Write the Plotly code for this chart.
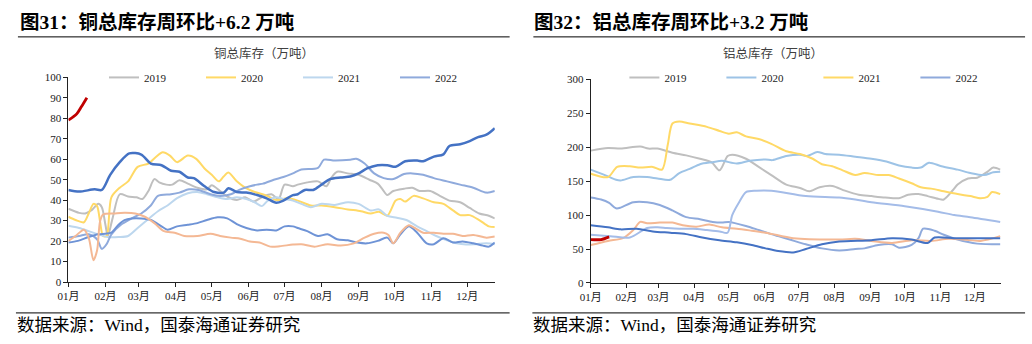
import datetime as dt
import plotly.graph_objects as go

# ---- copper total inventory (万吨), (day-of-year offset, value) per year ----
cu_2019 = [(0,35.8),(9,33.8),(14,33.5),(20,35.4),(25,38.2),(28,36.6),(31,28),(33,22.5),(37,31.1),(43,42.9),(50,41.8),(57,41.4),(62,40.6),(67,44.5),(72,50.3),(76,48.7),(82,47.6),(87,47.6),(93,49.7),(100,48.1),(108,46.1),(116,45.3),(120,47.3),(127,44.5),(133,41.8),(141,40.1),(148,41.4),(155,39.3),(163,41.8),(170,42.9),(176,40.6),(181,47.6),(188,46.8),(192,47.6),(200,48.7),(209,49.2),(216,46.8),(220,50.8),(225,53.9),(234,53.1),(243,52.4),(252,50),(259,48.1),(263,45.3),(267,42.5),(272,44.5),(281,45.6),(288,46.1),(294,44.5),(303,44.5),(311,42.1),(319,39.8),(328,39),(336,36.2),(344,33.5),(352,32.4),(357,31.1)]
cu_2020 = [(0,31.9),(6,30.3),(13,29.2),(17,33.5),(21,38.2),(24,37.1),(26.5,29.6),(29,22.5),(32,22.5),(36,41.4),(43,46.1),(50,49.2),(58,56.3),(67,57.9),(73,61),(79,63.4),(85,61.8),(91,58.6),(100,61.8),(107,60.2),(114,55.5),(120,52.4),(126,49.2),(130,51.6),(134,53.5),(141,49.2),(148,46.1),(156,44),(165,42.5),(174,40.1),(183,40.9),(192,39.8),(203,37.4),(212,37.4),(223,36.6),(234,35.5),(245,34.6),(253,33.5),(260,34.3),(267,32.4),(274,39.8),(278,40.6),(282,39.3),(289,42.1),(297,40.9),(306,39),(314,38.2),(322,35),(328,32.7),(336,32.7),(344,30.3),(352,27.2),(357,26.9)]
cu_2021 = [(0,27.5),(9,26.4),(17,24.9),(25,23.3),(33,22),(42,22),(50,22.5),(58,26.4),(67,30.8),(75,34.6),(83,37.4),(91,41),(100,43.4),(108,44),(116,42.9),(125,41.4),(133,40.6),(141,41.4),(149,40.6),(156,39),(162,37.1),(167,39.8),(174,41.4),(180,40.6),(188,39.8),(195,38.2),(203,36.6),(212,38.2),(223,37.7),(234,39),(243,38.2),(253,35),(260,35.5),(267,32.4),(275,31.4),(283,30.3),(292,27.2),(300,24.9),(308,22.5),(317,20.4),(325,18.9),(333,18.3),(341,18.5),(350,18.9),(357,18.5)]
cu_2022 = [(0,21.7),(9,22.5),(17,23.3),(24,20.9),(28,16.2),(32,18.5),(36,23.3),(44,28),(53,31.1),(61,33.5),(69,37.4),(75,42.1),(86,42.9),(93,43.7),(101,45.3),(109,45),(119,42.9),(127,42.1),(136,42.9),(143,45),(152,46.8),(158,47.6),(163,48.1),(172,50),(180,51.3),(188,53.1),(195,55),(209,55.8),(214,59.8),(223,59.4),(236,59.8),(241,60.2),(248,57.9),(256,53.1),(264,50.8),(272,50.3),(281,52.8),(288,53.1),(297,52.4),(306,50.8),(317,49.2),(328,47.6),(339,46.1),(350,43.7),(357,44.5)]
cu_2023 = [(0,19.3),(8,20.1),(17,22),(25,23.3),(31,23.6),(36,24.1),(42,28),(47,30.3),(53,31.1),(61,31.1),(69,30.3),(78,27.2),(83,25.6),(91,27.2),(100,28),(108,28.8),(116,30.3),(125,31.6),(133,31.1),(141,28.3),(149,26.4),(158,25.2),(166,25.6),(174,25.2),(181,27.2),(188,27.2),(192,26.4),(200,24.9),(209,22.5),(217,23.3),(225,20.9),(234,20.4),(242,19.3),(250,18.9),(259,20.1),(267,21.7),(272,18.9),(278,23.3),(285,27.2),(292,24.1),(300,18.9),(306,18.5),(314,21.4),(322,19.3),(330,19.8),(339,18.9),(347,17.8),(352,17.3),(357,19.3)]
cu_2024 = [(0,20.1),(6,22.5),(13,25.6),(17,21.7),(21,10.7),(24,15.4),(26.5,29.6),(29,33),(39,33.5),(47,33.8),(56,33.5),(64,31.9),(72,28.8),(80,24.9),(89,24.1),(97,22.5),(108,22.5),(119,23.6),(127,22.5),(136,21.7),(144,21.2),(152,19.8),(160,19.3),(169,17.3),(177,17.5),(188,18.3),(195,18.5),(206,17.3),(217,18.5),(228,17.8),(239,18.9),(248,21.7),(256,23.6),(264,24.1),(268,23),(272,18.9),(278,24.1),(285,27.7),(290,26.4),(297,24.1),(306,24.1),(314,23.6),(322,23.6),(330,22.5),(339,23),(350,21.7),(357,22.2)]
cu_2025 = [(0,45),(9,44.2),(22,45.3),(28,45),(35,52.4),(43,58.6),(51,62.9),(61,62.3),(69,57.9),(78,57.1),(86,54.4),(93,53.9),(100,51.1),(105,50.8),(114,46.8),(122,44),(130,43.7),(134,45.8),(141,44),(149,43.7),(158,42.5),(166,40.9),(174,38.7),(180,39.8),(188,42.5),(192,42.9),(198,45),(205,45),(212,47.6),(219,50.3),(228,51.1),(236,51.6),(243,53.1),(250,55.5),(259,57.1),(267,57.1),(274,56.3),(282,59),(292,59.4),(297,59),(306,61.3),(314,62.4),(319,66.5),(328,67.3),(336,68.9),(343,70.8),(350,72),(357,75.2)]
cu_2026 = [(0,79.1),(7,82.2),(11,85.8),(15.5,90.1)]

# ---- aluminium total inventory (万吨) ----
al_2019 = [(0,195),(15,199),(26,198),(43,201),(50,198),(58,198),(71,192),(83,188),(95,183),(105,178),(112,166),(119,187),(123,189),(135,183),(146,171),(157,159),(170,145),(182,140),(190,135),(199,141),(210,143),(221,136),(233,130),(244,128),(256,126),(268,125),(276,130),(285,131),(293,128),(302,124),(307,123),(315,137),(319,145),(328,154),(336,155),(345,164),(350,170),(356,167)]
al_2020 = [(0,167),(15,157),(22,152),(26,151),(37,156),(49,156),(58,154),(69,152),(77,162),(86,168),(95,175),(106,178),(114,180),(127,176),(138,180),(152,182),(158,181),(170,187),(182,189),(188,187),(197,193),(204,190),(216,189),(230,186),(244,183),(257,179),(268,173),(279,170),(287,170),(294,177),(305,172),(319,167),(330,162),(342,159),(350,163),(356,164)]
al_2021 = [(0,161),(15,156),(23,171),(34,172),(43,170),(54,171),(62,167),(67,204),(71,235),(77,238),(86,235),(101,230),(112,224),(120,220),(127,222),(135,216),(146,212),(157,205),(170,194),(182,190),(193,183),(201,175),(210,172),(219,166),(230,159),(238,162),(250,159),(259,159),(268,154),(279,147),(287,141),(296,139),(307,135),(319,131),(330,128),(339,125),(345,127),(349,134),(356,131)]
al_2022 = [(0,126),(9,123),(16,118),(22,110),(26,111),(37,119),(49,119),(60,115),(71,107),(83,97),(95,94),(106,90),(114,89),(120,90),(135,84),(146,78),(157,72),(163,69),(173,64),(187,57),(201,51),(216,48),(230,50),(238,51),(250,56),(262,57),(268,52),(279,56),(285,66),(289,80),(299,77),(307,71),(319,64),(336,58),(356,57)]
al_2023 = [(0,56),(15,62),(28,66),(37,78),(43,90),(49,88),(60,89),(71,89),(80,85),(92,83),(103,86),(114,82),(127,80),(140,77),(152,74),(158,72),(176,66),(216,64),(230,65),(244,62),(262,59),(279,63),(296,62),(311,65),(324,64),(339,62),(356,69)]
al_2024 = [(0,71),(17,69),(34,67),(49,81),(58,82),(66,81),(77,80),(89,80),(101,78),(112,76),(119,74),(123,100),(129,119),(135,134),(144,136),(157,136),(187,128),(216,126),(230,123),(244,119),(273,113),(302,105),(316,100),(330,97),(356,90)]
al_2025 = [(0,85),(15,82),(26,79),(40,80),(54,76),(69,74),(83,72),(97,67),(112,63),(127,60),(140,56),(152,51),(163,47),(176,45),(187,50),(201,57),(216,61),(244,63),(262,66),(279,64),(293,59),(299,67),(316,66),(330,66),(356,66)]
al_2026 = [(0,64),(9,64),(16,68)]

month_labels = ["01月", "02月", "03月", "04月", "05月", "06月",
                "07月", "08月", "09月", "10月", "11月", "12月"]

BASE = dt.datetime(2021, 1, 1)
W, H = 1032, 344


def to_dates(series):
    return [BASE + dt.timedelta(days=d) for d, _ in series], [v for _, v in series]


def px_x(p):
    return p / W


def px_y(p):
    return 1 - p / H


fig = go.Figure()

copper = [
    ("2019", cu_2019, "#BFBFBF", 2.0, True),
    ("2020", cu_2020, "#FFD966", 2.0, True),
    ("2021", cu_2021, "#BDD7EE", 2.0, True),
    ("2022", cu_2022, "#8FAADC", 2.0, True),
    ("2023", cu_2023, "#6E93D6", 2.0, False),
    ("2024", cu_2024, "#F4B894", 2.0, False),
    ("2025", cu_2025, "#4472C4", 2.5, False),
    ("2026", cu_2026, "#C00000", 2.8, False),
]
alum = [
    ("2019", al_2019, "#BFBFBF", 2.0, True),
    ("2020", al_2020, "#9DC3E6", 2.0, True),
    ("2021", al_2021, "#FFD966", 2.0, True),
    ("2022", al_2022, "#8FAADC", 2.0, True),
    ("2023", al_2023, "#F4B894", 2.0, False),
    ("2024", al_2024, "#A4BCE8", 2.0, False),
    ("2025", al_2025, "#4472C4", 2.0, False),
    ("2026", al_2026, "#C00000", 2.8, False),
]

for name, data, color, width, show in copper:
    xs, ys = to_dates(data)
    fig.add_trace(go.Scatter(
        x=xs, y=ys, name=name, mode="lines",
        line=dict(color=color, width=width, shape="spline", smoothing=0.8),
        showlegend=show, legend="legend", xaxis="x", yaxis="y"))

for name, data, color, width, show in alum:
    xs, ys = to_dates(data)
    fig.add_trace(go.Scatter(
        x=xs, y=ys, name=name, mode="lines",
        line=dict(color=color, width=width, shape="spline", smoothing=0.8),
        showlegend=show, legend="legend2", xaxis="x2", yaxis="y2"))

tick_dates = [dt.datetime(2021, m, 1) for m in range(1, 13)]
serif = "Liberation Serif, 'Times New Roman', 'Noto Sans CJK SC', serif"
tick_font = dict(family=serif, size=11, color="#222")

xcommon = dict(
    type="date", range=[BASE, BASE + dt.timedelta(days=357)],
    tickvals=tick_dates, ticktext=month_labels,
    ticks="outside", ticklen=4, tickcolor="#222",
    showline=True, linecolor="#222", linewidth=1,
    showgrid=False, zeroline=False, tickfont=tick_font,
)
ycommon = dict(
    ticks="outside", ticklen=4, tickcolor="#222",
    showline=True, linecolor="#222", linewidth=1,
    showgrid=False, zeroline=False, tickfont=tick_font,
)

legend_common = dict(
    orientation="h", xanchor="left", yanchor="middle",
    font=dict(family=serif, size=11, color="#222"),
    bgcolor="rgba(0,0,0,0)", itemwidth=30,
    entrywidth=52, entrywidthmode="pixels", traceorder="normal",
)

title_font = dict(family=serif, size=19.5, color="#000")
sub_font = dict(family="'Noto Sans CJK SC', sans-serif", size=12.5, color="#404040")
foot_font = dict(family=serif, size=17.5, color="#000")

annotations = [
    dict(text="<b>图31：铜总库存周环比+6.2 万吨</b>", x=px_x(7), y=px_y(17),
         xanchor="left", yanchor="middle", font=title_font),
    dict(text="<b>图32：铝总库存周环比+3.2 万吨</b>", x=px_x(527), y=px_y(17),
         xanchor="left", yanchor="middle", font=title_font),
    dict(text="铜总库存（万吨）", x=px_x(256), y=px_y(48),
         xanchor="center", yanchor="middle", font=sub_font),
    dict(text="铝总库存（万吨）", x=px_x(770), y=px_y(48),
         xanchor="center", yanchor="middle", font=sub_font),
    dict(text="数据来源：Wind，国泰海通证券研究", x=px_x(4), y=px_y(331),
         xanchor="left", yanchor="middle", font=foot_font),
    dict(text="数据来源：Wind，国泰海通证券研究", x=px_x(526), y=px_y(331),
         xanchor="left", yanchor="middle", font=foot_font),
]
for a in annotations:
    a.update(xref="paper", yref="paper", showarrow=False)

rules = []
for x0, x1, y in [(7, 504, 32), (528, 1025, 32), (5, 504, 318), (527, 1025, 318)]:
    rules.append(dict(type="line", xref="paper", yref="paper",
                      x0=px_x(x0), x1=px_x(x1), y0=px_y(y), y1=px_y(y),
                      line=dict(color="#000", width=1)))

fig.update_layout(
    width=W, height=H, margin=dict(l=0, r=0, t=0, b=0),
    paper_bgcolor="white", plot_bgcolor="white",
    xaxis=dict(domain=[px_x(58), px_x(489)], anchor="y", **xcommon),
    yaxis=dict(domain=[px_y(286), px_y(74)], anchor="x", range=[0, 100], dtick=10, **ycommon),
    xaxis2=dict(domain=[px_x(586), px_x(1001)], anchor="y2", **xcommon),
    yaxis2=dict(domain=[px_y(287), px_y(76)], anchor="x2", range=[0, 300], dtick=50, **ycommon),
    legend=dict(x=px_x(94), y=px_y(74), **legend_common),
    legend2=dict(x=px_x(620), y=px_y(74), **legend_common),
    annotations=annotations,
    shapes=rules,
    showlegend=True,
)

fig.write_html("out.html")
